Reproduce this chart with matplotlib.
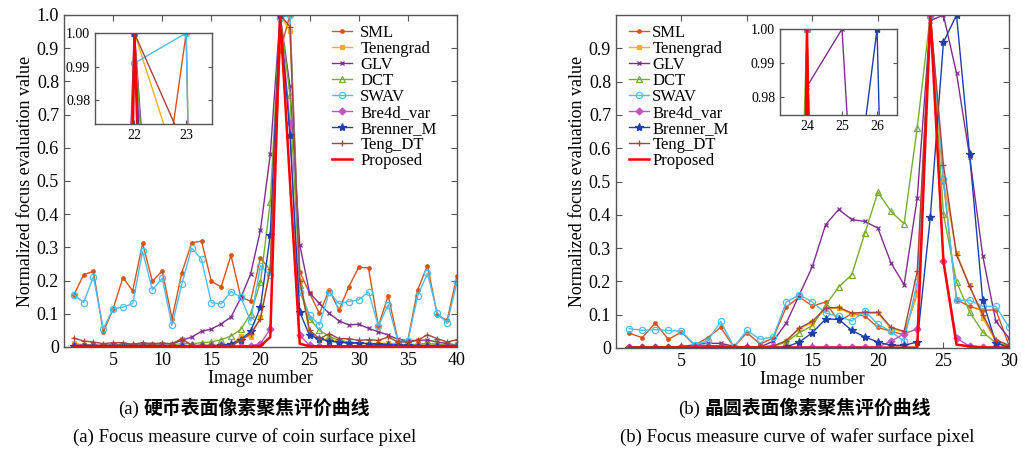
import matplotlib
matplotlib.use('Agg')
import matplotlib.pyplot as plt
import numpy as np

plt.rcParams['font.family'] = ['Liberation Serif', 'Noto Sans CJK SC']

# ---- data ----
names = ['SML', 'Tenengrad', 'GLV', 'DCT', 'SWAV', 'Bre4d_var', 'Brenner_M', 'Teng_DT', 'Proposed']

coin_x = np.arange(1, 41)
coin_sml = [0.156, 0.218, 0.228, 0.045, 0.115, 0.209, 0.169, 0.312, 0.198, 0.229,
            0.085, 0.224, 0.314, 0.319, 0.198, 0.181, 0.276, 0.150, 0.138, 0.268,
            0.232, 0.890, 1.000, 0.227, 0.162, 0.101, 0.172, 0.111, 0.182, 0.240,
            0.238, 0.063, 0.154, 0.020, 0.020, 0.172, 0.245, 0.096, 0.080, 0.214]
coin_tenengrad = [0.012, 0.006, 0.005, 0.004, 0.005, 0.006, 0.004, 0.006, 0.005, 0.006,
                  0.005, 0.025, 0.004, 0.004, 0.004, 0.005, 0.004, 0.033, 0.030, 0.090,
                  0.235, 1.000, 0.952, 0.200, 0.040, 0.020, 0.025, 0.015, 0.012, 0.010,
                  0.010, 0.010, 0.012, 0.006, 0.005, 0.008, 0.012, 0.008, 0.006, 0.008]
coin_glv = [0.005, 0.006, 0.006, 0.005, 0.007, 0.008, 0.007, 0.008, 0.008, 0.009,
            0.010, 0.020, 0.030, 0.047, 0.054, 0.070, 0.090, 0.148, 0.220, 0.352,
            0.580, 1.000, 0.786, 0.308, 0.163, 0.131, 0.101, 0.079, 0.066, 0.069,
            0.056, 0.046, 0.036, 0.023, 0.019, 0.020, 0.021, 0.015, 0.010, 0.006]
coin_dct = [0.004, 0.004, 0.004, 0.004, 0.005, 0.005, 0.005, 0.006, 0.006, 0.006,
            0.007, 0.010, 0.010, 0.013, 0.015, 0.022, 0.033, 0.053, 0.100, 0.196,
            0.437, 1.000, 0.759, 0.186, 0.085, 0.050, 0.032, 0.020, 0.015, 0.012,
            0.010, 0.010, 0.010, 0.008, 0.007, 0.008, 0.010, 0.008, 0.006, 0.006]
coin_swav = [0.158, 0.134, 0.212, 0.055, 0.115, 0.120, 0.131, 0.288, 0.172, 0.207,
             0.065, 0.190, 0.298, 0.264, 0.133, 0.130, 0.167, 0.150, 0.078, 0.245,
             0.216, 0.991, 1.000, 0.165, 0.096, 0.066, 0.166, 0.130, 0.137, 0.142,
             0.166, 0.063, 0.127, 0.016, 0.018, 0.153, 0.222, 0.103, 0.071, 0.195]
coin_bre4d = [0.002, 0.002, 0.002, 0.002, 0.002, 0.002, 0.002, 0.002, 0.002, 0.002,
              0.002, 0.002, 0.002, 0.002, 0.002, 0.002, 0.002, 0.004, 0.004, 0.010,
              0.054, 1.000, 0.676, 0.035, 0.005, 0.002, 0.002, 0.002, 0.002, 0.002,
              0.002, 0.002, 0.002, 0.002, 0.002, 0.002, 0.002, 0.002, 0.002, 0.002]
coin_brenner = [0.002, 0.002, 0.002, 0.002, 0.002, 0.002, 0.002, 0.002, 0.002, 0.002,
                0.002, 0.002, 0.002, 0.002, 0.003, 0.005, 0.010, 0.022, 0.047, 0.120,
                0.338, 1.000, 0.639, 0.105, 0.035, 0.025, 0.018, 0.014, 0.012, 0.012,
                0.010, 0.008, 0.007, 0.005, 0.005, 0.004, 0.004, 0.004, 0.004, 0.004]
coin_tengdt = [0.027, 0.018, 0.015, 0.010, 0.013, 0.013, 0.008, 0.013, 0.010, 0.012,
               0.010, 0.025, 0.005, 0.005, 0.005, 0.005, 0.003, 0.020, 0.040, 0.085,
               0.235, 1.000, 0.965, 0.200, 0.050, 0.025, 0.040, 0.025, 0.025, 0.020,
               0.022, 0.020, 0.030, 0.015, 0.015, 0.020, 0.037, 0.025, 0.015, 0.022]
coin_proposed = [0.001, 0.001, 0.001, 0.001, 0.001, 0.001, 0.001, 0.001, 0.001, 0.001,
                 0.001, 0.001, 0.001, 0.001, 0.001, 0.001, 0.001, 0.001, 0.001, 0.003,
                 0.030, 1.000, 0.500, 0.010, 0.002, 0.002, 0.002, 0.002, 0.002, 0.002,
                 0.002, 0.002, 0.002, 0.002, 0.002, 0.002, 0.002, 0.002, 0.002, 0.002]

wafer_x = np.arange(1, 31)
wafer_sml = [0.045, 0.031, 0.075, 0.026, 0.048, 0.008, 0.031, 0.062, 0.003, 0.046,
             0.012, 0.030, 0.123, 0.153, 0.126, 0.138, 0.080, 0.103, 0.096, 0.062,
             0.050, 0.040, 0.167, 1.000, 0.500, 0.145, 0.125, 0.113, 0.115, 0.008]
wafer_tenengrad = [0.002, 0.002, 0.002, 0.002, 0.004, 0.005, 0.006, 0.006, 0.003, 0.003,
                   0.003, 0.005, 0.020, 0.058, 0.077, 0.118, 0.120, 0.102, 0.104, 0.104,
                   0.058, 0.048, 0.160, 1.000, 0.505, 0.285, 0.188, 0.090, 0.020, 0.005]
wafer_glv = [0.003, 0.003, 0.003, 0.003, 0.004, 0.010, 0.014, 0.014, 0.005, 0.003,
             0.003, 0.020, 0.075, 0.160, 0.245, 0.370, 0.416, 0.386, 0.380, 0.360,
             0.255, 0.190, 0.450, 0.983, 1.000, 0.825, 0.575, 0.277, 0.080, 0.030]
wafer_dct = [0.002, 0.002, 0.002, 0.002, 0.003, 0.004, 0.005, 0.005, 0.003, 0.003,
             0.003, 0.005, 0.018, 0.046, 0.067, 0.128, 0.183, 0.220, 0.345, 0.468,
             0.410, 0.373, 0.662, 1.000, 0.402, 0.198, 0.108, 0.048, 0.015, 0.005]
wafer_swav = [0.058, 0.053, 0.055, 0.053, 0.050, 0.010, 0.021, 0.080, 0.003, 0.053,
              0.026, 0.033, 0.138, 0.160, 0.138, 0.105, 0.095, 0.081, 0.111, 0.071,
              0.050, 0.020, 0.198, 1.000, 0.508, 0.143, 0.144, 0.125, 0.125, 0.063]
wafer_bre4d = [0.003, 0.003, 0.003, 0.003, 0.003, 0.003, 0.003, 0.003, 0.003, 0.003,
               0.003, 0.003, 0.003, 0.003, 0.003, 0.003, 0.003, 0.003, 0.003, 0.003,
               0.020, 0.043, 0.057, 1.000, 0.260, 0.030, 0.005, 0.003, 0.003, 0.002]
wafer_brenner = [0.001, 0.001, 0.001, 0.001, 0.001, 0.001, 0.001, 0.001, 0.001, 0.001,
                 0.001, 0.001, 0.003, 0.018, 0.046, 0.087, 0.086, 0.053, 0.033, 0.018,
                 0.008, 0.008, 0.018, 0.394, 0.918, 1.000, 0.582, 0.143, 0.015, 0.002]
wafer_tengdt = [0.003, 0.003, 0.003, 0.003, 0.005, 0.006, 0.007, 0.007, 0.004, 0.004,
                0.004, 0.006, 0.022, 0.060, 0.080, 0.120, 0.122, 0.105, 0.107, 0.107,
                0.062, 0.050, 0.230, 1.000, 0.549, 0.280, 0.185, 0.100, 0.025, 0.008]
wafer_proposed = [0.001, 0.001, 0.001, 0.001, 0.001, 0.001, 0.001, 0.001, 0.001, 0.001,
                  0.001, 0.001, 0.001, 0.001, 0.001, 0.001, 0.001, 0.001, 0.001, 0.001,
                  0.001, 0.001, 0.001, 1.000, 0.260, 0.010, 0.005, 0.002, 0.001, 0.001]

coin_series = [coin_sml, coin_tenengrad, coin_glv, coin_dct, coin_swav,
               coin_bre4d, coin_brenner, coin_tengdt, coin_proposed]
wafer_series = [wafer_sml, wafer_tenengrad, wafer_glv, wafer_dct, wafer_swav,
                wafer_bre4d, wafer_brenner, wafer_tengdt, wafer_proposed]

# ---- styles ----
colors = ['#D95319', '#EDB120', '#7E2F8E', '#77AC30', '#4DBEEE',
          '#C452C4', '#1F3FAA', '#A8443A', '#FF0000']
markers = ['.', 's', 'x', '^', 'o', 'D', '*', '+', None]
msizes = [5, 3.5, 3.5, 4.5, 4.5, 3.5, 6, 4.5, 0]
mfcs = ['#D95319', '#EDB120', '#7E2F8E', 'none', 'none', '#C452C4', '#1F3FAA', '#A8443A', 'none']
lwidths = [1.0, 1.0, 1.0, 1.0, 1.0, 1.0, 1.0, 1.0, 1.8]
frame_col = '#555555'


def draw_series(ax, x, series):
    for name, y, c, m, ms, mfc, lw in zip(names, series, colors, markers, msizes, mfcs, lwidths):
        ax.plot(x, y, color=c, marker=m, ms=ms, mfc=mfc, mec=c, mew=0.9,
                lw=lw, label=name)


def style_axes(ax, labelsize):
    for sp in ax.spines.values():
        sp.set_color(frame_col)
        sp.set_linewidth(1.0)
    ax.tick_params(direction='in', top=True, right=True, length=4,
                   color=frame_col, labelsize=labelsize, labelcolor='black')


fig = plt.figure(figsize=(10.22, 4.53), dpi=100)

# ---- (a) coin ----
ax1 = fig.add_axes([0.0626, 0.234, 0.3845, 0.733])
draw_series(ax1, coin_x, coin_series)
ax1.set_xlim(0, 40)
ax1.set_ylim(0, 1)
ax1.set_xticks([5, 10, 15, 20, 25, 30, 35, 40])
yt = np.round(np.arange(0, 1.01, 0.1), 1)
ax1.set_yticks(yt)
ax1.set_yticklabels(['0'] + ['%.1f' % v for v in yt[1:]])
style_axes(ax1, 13)
ax1.set_xlabel('Image number', fontsize=13, labelpad=1)
ax1.set_ylabel('Normalized focus evaluation value', fontsize=13, labelpad=2)
ax1.legend(loc='upper left', bbox_to_anchor=(0.682, 0.97), frameon=False,
           fontsize=12, labelspacing=0.0, handlelength=1.2, handletextpad=0.5,
           borderpad=0, borderaxespad=0)

in1 = fig.add_axes([0.093, 0.726, 0.1145, 0.201])
draw_series(in1, coin_x, coin_series)
in1.set_xlim(21.24, 23.5)
in1.set_ylim(0.9728, 1.0)
in1.set_xticks([22, 23])
in1.set_yticks([0.98, 0.99, 1.00])
in1.set_yticklabels(['0.98', '0.99', '1.00'])
style_axes(in1, 10)
in1.tick_params(length=3)

# ---- (b) wafer ----
ax2 = fig.add_axes([0.6027, 0.2318, 0.3845, 0.735])
draw_series(ax2, wafer_x, wafer_series)
ax2.set_xlim(0, 30)
ax2.set_ylim(0, 1)
ax2.set_xticks([5, 10, 15, 20, 25, 30])
yt2 = np.round(np.arange(0, 0.91, 0.1), 1)
ax2.set_yticks(yt2)
ax2.set_yticklabels(['0'] + ['%.1f' % v for v in yt2[1:]])
style_axes(ax2, 13)
ax2.set_xlabel('Image number', fontsize=13, labelpad=1)
ax2.set_ylabel('Normalized focus evaluation value', fontsize=13, labelpad=2)
ax2.legend(loc='upper left', bbox_to_anchor=(0.033, 0.97), frameon=False,
           fontsize=12, labelspacing=0.0, handlelength=1.2, handletextpad=0.2,
           borderpad=0, borderaxespad=0)

in2 = fig.add_axes([0.7632, 0.746, 0.1145, 0.19])
draw_series(in2, wafer_x, wafer_series)
in2.set_xlim(23.23, 26.57)
in2.set_ylim(0.9746, 1.0)
in2.set_xticks([24, 25, 26])
in2.set_yticks([0.98, 0.99, 1.00])
in2.set_yticklabels(['0.98', '0.99', '1.00'])
style_axes(in2, 10)
in2.tick_params(length=3)

# ---- captions ----
cy1 = 1 - 409 / 453
cy2 = 1 - 437 / 453
fig.text(118 / 1022, cy1, '(a)', ha='left', va='center', fontsize=13.5)
fig.text(144 / 1022, cy1, '硬币表面像素聚焦评价曲线', ha='left', va='center',
         fontsize=13.6, fontweight='bold')
fig.text(245 / 1022, cy2, '(a) Focus measure curve of coin surface pixel',
         ha='center', va='center', fontsize=13.5)
fig.text(678 / 1022, cy1, '(b)', ha='left', va='center', fontsize=13.5)
fig.text(704 / 1022, cy1, '晶圆表面像素聚焦评价曲线', ha='left', va='center',
         fontsize=13.6, fontweight='bold')
fig.text(797 / 1022, cy2, '(b) Focus measure curve of wafer surface pixel',
         ha='center', va='center', fontsize=13.5)

fig.savefig('out.png', dpi=100)
